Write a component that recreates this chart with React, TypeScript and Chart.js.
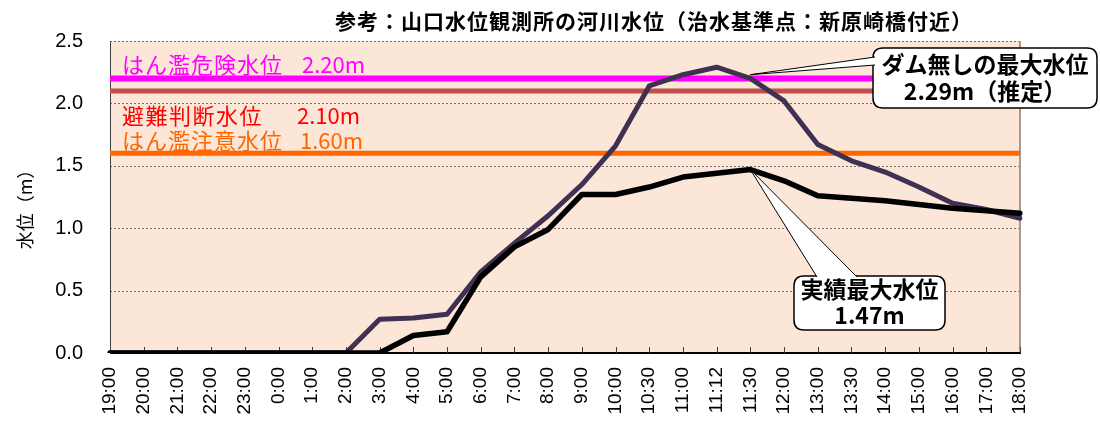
import React, { useEffect, useRef } from 'react';
import { Chart, registerables } from 'chart.js';

Chart.register(...registerables);

// ---- data ----
const categories = [
  '19:00', '20:00', '21:00', '22:00', '23:00', '0:00', '1:00', '2:00', '3:00', '4:00',
  '5:00', '6:00', '7:00', '8:00', '9:00', '10:00', '10:30', '11:00', '11:12', '11:30',
  '12:00', '13:00', '13:30', '14:00', '15:00', '16:00', '17:00', '18:00',
];
const noDamLevels = [
  0, 0, 0, 0, 0, 0, 0, 0, 0.27, 0.28,
  0.31, 0.65, 0.88, 1.10, 1.35, 1.66, 2.14, 2.23, 2.29, 2.20,
  2.02, 1.67, 1.54, 1.45, 1.33, 1.20, 1.15, 1.08,
];
const actualLevels = [
  0, 0, 0, 0, 0, 0, 0, 0, 0, 0.14,
  0.17, 0.61, 0.85, 0.99, 1.27, 1.27, 1.33, 1.41, 1.44, 1.47,
  1.38, 1.26, 1.24, 1.22, 1.19, 1.16, 1.14, 1.12,
];
const yTickValues = [0, 0.5, 1.0, 1.5, 2.0, 2.5];
const thresholdValues = [2.2, 2.1, 1.6];
const thresholdNames = ['はん濫危険水位', '避難判断水位', 'はん濫注意水位'];
const thresholdValueLabels = ['2.20m', '2.10m', '1.60m'];
const titleText = '参考：山口水位観測所の河川水位（治水基準点：新原崎橋付近）';
const yAxisTitle = '水位（m）';
const noDamCalloutLines = ['ダム無しの最大水位', '2.29m（推定）'];
const noDamCalloutAnchor = { label: '11:30', value: 2.23 };
const actualCalloutLines = ['実績最大水位', '1.47m'];

// ---- styles ----
const CJK = '"Noto Sans CJK JP", "Noto Sans CJK SC", sans-serif';
const LAT = '"Liberation Sans", Arial, sans-serif';
const thresholdColors = ['#FF00FF', '#C0504D', '#FF6600'];
const thresholdWidths = [6, 5, 5];
const thresholdTextColors = ['#FF00FF', '#FF0000', '#FF6600'];
const thresholdTextOffsets = [-14, 25, -13];
const thresholdValueX = [302, 297, 300];

function roundRect(ctx: CanvasRenderingContext2D, x: number, y: number, w: number, h: number, r: number) {
  ctx.beginPath();
  ctx.moveTo(x + r, y);
  ctx.lineTo(x + w - r, y);
  ctx.quadraticCurveTo(x + w, y, x + w, y + r);
  ctx.lineTo(x + w, y + h - r);
  ctx.quadraticCurveTo(x + w, y + h, x + w - r, y + h);
  ctx.lineTo(x + r, y + h);
  ctx.quadraticCurveTo(x, y + h, x, y + h - r);
  ctx.lineTo(x, y + r);
  ctx.quadraticCurveTo(x, y, x + r, y);
  ctx.closePath();
}

function drawCallout(
  ctx: CanvasRenderingContext2D,
  box: { x: number; y: number; w: number; h: number },
  base: [number, number][],
  tip: { x: number; y: number },
  lines: string[],
  lineY: number[],
  font: string,
) {
  ctx.save();
  roundRect(ctx, box.x, box.y, box.w, box.h, 10);
  ctx.fillStyle = '#FFFFFF';
  ctx.fill();
  ctx.lineWidth = 1.5;
  ctx.strokeStyle = '#000000';
  ctx.stroke();
  ctx.beginPath();
  ctx.moveTo(base[0][0], base[0][1]);
  ctx.lineTo(tip.x, tip.y);
  ctx.lineTo(base[1][0], base[1][1]);
  ctx.closePath();
  ctx.fillStyle = '#FFFFFF';
  ctx.fill();
  ctx.beginPath();
  ctx.moveTo(base[0][0], base[0][1]);
  ctx.lineTo(tip.x, tip.y);
  ctx.lineTo(base[1][0], base[1][1]);
  ctx.lineWidth = 1;
  ctx.stroke();
  ctx.fillStyle = '#000000';
  ctx.font = font;
  ctx.textAlign = 'center';
  ctx.textBaseline = 'middle';
  const cx = box.x + box.w / 2;
  lines.forEach((t, i) => ctx.fillText(t, cx, lineY[i]));
  ctx.restore();
}

const decorPlugin = {
  id: 'decor',
  beforeDatasetsDraw(chart: any) {
    const { ctx, chartArea } = chart;
    const { left, right, top, bottom } = chartArea;
    const y = chart.scales.y;
    const x = chart.scales.x;
    ctx.save();
    ctx.fillStyle = '#FBE6D8';
    ctx.fillRect(left, top, right - left, bottom - top);
    ctx.strokeStyle = '#6E6E6E';
    ctx.lineWidth = 1;
    ctx.setLineDash([2, 2]);
    yTickValues.forEach((v) => {
      if (v === 0) return;
      const py = Math.round(y.getPixelForValue(v)) + 0.5;
      ctx.beginPath();
      ctx.moveTo(left, py);
      ctx.lineTo(right, py);
      ctx.stroke();
    });
    ctx.setLineDash([]);
    ctx.strokeStyle = '#404040';
    ctx.beginPath();
    ctx.moveTo(left + 0.5, top);
    ctx.lineTo(left + 0.5, bottom);
    ctx.stroke();
    ctx.strokeStyle = '#A8988F';
    ctx.lineWidth = 2;
    ctx.beginPath();
    ctx.moveTo(right, top);
    ctx.lineTo(right, bottom);
    ctx.stroke();
    ctx.strokeStyle = '#000000';
    ctx.lineWidth = 2;
    ctx.beginPath();
    ctx.moveTo(left, bottom);
    ctx.lineTo(right + 1, bottom);
    ctx.stroke();
    ctx.lineWidth = 1;
    ctx.strokeStyle = '#404040';
    categories.forEach((_, i) => {
      const px = Math.round(x.getPixelForValue(i)) + 0.5;
      ctx.beginPath();
      ctx.moveTo(px, bottom);
      ctx.lineTo(px, bottom - 6);
      ctx.stroke();
    });
    thresholdValues.forEach((v, i) => {
      const py = y.getPixelForValue(v);
      ctx.strokeStyle = thresholdColors[i];
      ctx.lineWidth = thresholdWidths[i];
      ctx.beginPath();
      ctx.moveTo(left, py);
      ctx.lineTo(right, py);
      ctx.stroke();
    });
    ctx.restore();
  },
  afterDatasetsDraw(chart: any) {
    const { ctx, chartArea } = chart;
    const y = chart.scales.y;
    ctx.save();
    ctx.font = `22px ${CJK}`;
    ctx.textBaseline = 'middle';
    ctx.textAlign = 'left';
    thresholdValues.forEach((v, i) => {
      const py = y.getPixelForValue(v) + thresholdTextOffsets[i];
      ctx.fillStyle = thresholdTextColors[i];
      (ctx as any).letterSpacing = i === 1 ? '1.5px' : '1px';
      ctx.fillText(thresholdNames[i], chartArea.left + 12, py);
      (ctx as any).letterSpacing = '0px';
      ctx.fillText(thresholdValueLabels[i], thresholdValueX[i], py);
    });
    ctx.restore();
  },
  afterDraw(chart: any) {
    const { ctx, chartArea } = chart;
    const x = chart.scales.x;
    const y = chart.scales.y;
    ctx.save();
    ctx.fillStyle = '#000000';
    ctx.font = `bold 21px ${CJK}`;
    (ctx as any).letterSpacing = '1px';
    ctx.textAlign = 'center';
    ctx.textBaseline = 'middle';
    ctx.fillText(titleText, 654, 21);
    (ctx as any).letterSpacing = '0px';
    ctx.translate(25, (chartArea.top + chartArea.bottom) / 2 + 8);
    ctx.rotate(-Math.PI / 2);
    ctx.font = `18px ${CJK}`;
    ctx.fillText(yAxisTitle, 0, 0);
    ctx.restore();

    const ai = categories.indexOf(noDamCalloutAnchor.label);
    const tip1 = { x: x.getPixelForValue(ai), y: y.getPixelForValue(noDamCalloutAnchor.value) };
    drawCallout(
      ctx,
      { x: 873, y: 48, w: 224, h: 60 },
      [[875, 57], [875, 65]],
      tip1,
      noDamCalloutLines,
      [64, 91],
      `bold 23px ${CJK}`,
    );
    let mi = 0;
    actualLevels.forEach((v, i) => { if (v > actualLevels[mi]) mi = i; });
    const tip2 = { x: x.getPixelForValue(mi), y: y.getPixelForValue(actualLevels[mi]) };
    drawCallout(
      ctx,
      { x: 794, y: 276, w: 151, h: 54 },
      [[817, 277], [857, 277]],
      tip2,
      actualCalloutLines,
      [289, 315],
      `bold 23px ${CJK}`,
    );
  },
};

export default function App() {
  const ref = useRef<HTMLCanvasElement | null>(null);
  useEffect(() => {
    if (!ref.current) return;
    const chart = new Chart(ref.current, {
      type: 'line',
      data: {
        labels: categories,
        datasets: [
          {
            label: 'ダム無し',
            data: noDamLevels,
            borderColor: '#403152',
            borderWidth: 5,
            pointRadius: 0,
            tension: 0,
            borderJoinStyle: 'round',
            borderCapStyle: 'round',
            order: 2,
          },
          {
            label: '実績',
            data: actualLevels,
            borderColor: '#000000',
            borderWidth: 5.5,
            pointRadius: 0,
            tension: 0,
            borderJoinStyle: 'round',
            borderCapStyle: 'round',
            order: 1,
          },
        ],
      },
      options: {
        responsive: false,
        animation: false,
        devicePixelRatio: 1,
        layout: { padding: { top: 41, right: 80, bottom: 0, left: 0 } },
        plugins: {
          legend: { display: false },
          title: { display: false },
          tooltip: { enabled: false },
        },
        scales: {
          x: {
            type: 'category',
            offset: false,
            grid: { display: false, drawTicks: false },
            border: { display: false },
            ticks: {
              autoSkip: false,
              minRotation: 90,
              maxRotation: 90,
              padding: 14,
              color: '#000000',
              font: { family: LAT, size: 19 },
            },
            afterFit: (s: any) => { s.height = 68; },
          },
          y: {
            min: 0,
            max: 2.5,
            grid: { display: false, drawTicks: false },
            border: { display: false },
            ticks: {
              stepSize: 0.5,
              padding: 27,
              color: '#000000',
              font: { family: LAT, size: 20 },
              callback: (v: any) => Number(v).toFixed(1),
            },
            afterFit: (s: any) => { s.width = 110; },
          },
        },
      },
      plugins: [decorPlugin],
    });
    return () => chart.destroy();
  }, []);
  return (
    <div style={{ position: 'absolute', left: 0, top: 0, width: 1100, height: 421, background: '#FFFFFF' }}>
      <canvas ref={ref} width={1100} height={421} />
    </div>
  );
}
